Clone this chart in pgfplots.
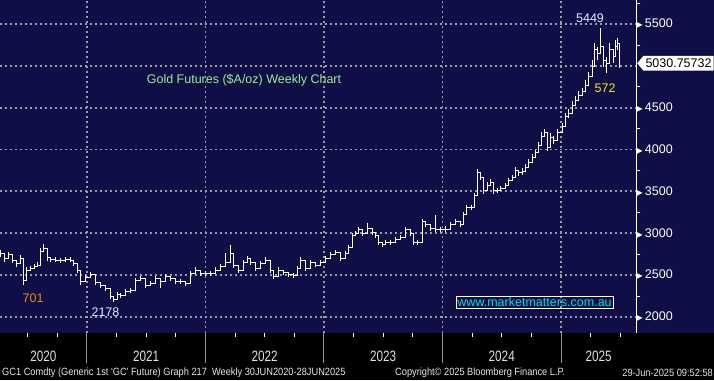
\documentclass[border=0pt]{standalone}
\usepackage{fontspec}
\setmainfont{Liberation Sans}
\newfontfamily\dejavu{DejaVu Sans}
\newfontfamily\condyear[FakeStretch=0.78]{Liberation Sans}
\newfontfamily\condfoot[FakeStretch=0.88]{Liberation Sans}
\usepackage{pgfplots}
\pgfplotsset{compat=1.18}
\usepackage{pgfplotstable}
\usetikzlibrary{shapes.symbols}
\definecolor{navybg}{RGB}{16,14,70}
\definecolor{gridc}{RGB}{155,155,168}
\definecolor{sepc}{RGB}{150,150,150}
\definecolor{yearc}{RGB}{225,225,235}
\definecolor{footc}{RGB}{230,230,230}
\definecolor{hic}{RGB}{225,235,255}
\definecolor{yel}{RGB}{240,230,30}
\definecolor{ora}{RGB}{230,140,20}
\definecolor{grn}{RGB}{150,240,150}
\definecolor{cyn}{RGB}{0,225,230}
\pgfplotsset{/pgf/number format/.cd, 1000 sep={}, assume math mode=true}
\newcommand{\tri}{{\dejavu\fontsize{8}{8}\selectfont ▶}\,}

\pgfplotstableread{
x c hp lm
2020.266 2760 40 40
2020.300 2700 40 40
2020.334 2740 40 40
2020.367 2680 40 40
2020.401 2640 40 40
2020.435 2700 40 40
2020.460 2440 40 60
2020.485 2560 40 40
2020.519 2580 30 30
2020.553 2600 30 30
2020.578 2620 30 30
2020.604 2780 40 40
2020.629 2820 50 40
2020.663 2710 40 40
2020.688 2690 30 30
2020.730 2680 30 30
2020.772 2670 30 30
2020.815 2690 30 30
2020.857 2680 30 30
2020.882 2640 30 30
2020.916 2560 30 30
2020.941 2420 40 40
2020.983 2475 30 30
2021.026 2510 30 30
2021.068 2410 30 30
2021.110 2380 30 30
2021.152 2340 30 30
2021.194 2240 30 30
2021.220 2210 30 32
2021.253 2270 30 30
2021.279 2260 30 30
2021.321 2300 30 30
2021.363 2320 30 30
2021.405 2440 30 30
2021.448 2460 30 30
2021.490 2380 30 30
2021.532 2400 30 30
2021.574 2460 30 30
2021.616 2420 30 80
2021.658 2480 30 30
2021.701 2460 30 30
2021.743 2420 30 30
2021.785 2420 30 30
2021.827 2400 30 30
2021.869 2520 30 30
2021.912 2560 30 30
2021.954 2520 30 30
2021.996 2520 30 30
2022.038 2520 30 30
2022.080 2560 30 30
2022.123 2600 30 30
2022.165 2650 110 30
2022.207 2760 100 40
2022.232 2620 40 40
2022.275 2560 30 30
2022.317 2650 30 30
2022.350 2700 30 30
2022.376 2650 30 30
2022.418 2580 30 30
2022.460 2640 30 30
2022.502 2680 30 30
2022.545 2560 30 30
2022.570 2480 30 30
2022.612 2560 30 30
2022.654 2530 30 30
2022.696 2510 30 30
2022.739 2500 30 30
2022.772 2580 30 30
2022.798 2680 30 30
2022.840 2580 30 30
2022.882 2650 30 30
2022.924 2620 30 30
2022.967 2650 30 30
2023.009 2700 30 30
2023.051 2740 30 30
2023.093 2770 30 30
2023.135 2700 30 30
2023.178 2760 30 30
2023.203 2830 30 30
2023.237 2970 30 30
2023.262 3000 30 30
2023.287 3040 30 30
2023.321 3000 30 30
2023.363 3060 60 30
2023.405 3010 30 30
2023.431 2970 30 30
2023.456 2890 30 30
2023.490 2860 30 30
2023.515 2890 30 30
2023.557 2890 30 30
2023.599 2930 30 30
2023.642 2950 30 30
2023.684 3040 30 30
2023.726 3000 30 30
2023.751 2890 30 30
2023.785 2890 30 30
2023.827 3140 30 30
2023.853 3100 30 30
2023.895 3060 30 30
2023.937 3040 180 30
2023.979 3040 30 30
2024.021 3050 30 30
2024.064 3100 30 30
2024.106 3140 30 30
2024.148 3100 30 30
2024.173 3220 30 30
2024.199 3310 30 30
2024.241 3310 30 30
2024.266 3450 30 30
2024.291 3730 40 40
2024.317 3670 40 40
2024.342 3510 40 40
2024.376 3570 40 40
2024.401 3610 40 40
2024.426 3510 40 40
2024.460 3510 30 30
2024.486 3530 30 30
2024.528 3570 30 30
2024.553 3630 30 30
2024.587 3670 30 30
2024.612 3750 40 40
2024.637 3720 40 40
2024.671 3740 40 40
2024.697 3790 40 40
2024.722 3850 40 40
2024.756 3910 40 40
2024.781 3960 40 40
2024.806 4050 40 40
2024.832 4160 50 50
2024.857 4200 50 50
2024.882 4030 50 50
2024.908 4150 50 50
2024.933 4110 50 50
2024.967 4200 50 50
2025.009 4270 50 50
2025.034 4390 50 50
2025.059 4430 50 50
2025.093 4530 50 50
2025.118 4590 50 50
2025.144 4650 50 50
2025.178 4690 50 50
2025.203 4770 60 60
2025.228 4870 60 60
2025.262 4990 80 80
2025.279 5190 80 80
2025.304 5150 80 80
2025.329 5230 219 80
2025.355 5070 80 80
2025.380 5030 80 120
2025.405 5190 80 80
2025.439 5110 80 80
2025.456 5230 80 80
2025.473 5270 60 80
2025.490 5031 60 60
}\gold

\begin{document}
\begin{tikzpicture}
\path[use as bounding box] (0pt,-47pt) rectangle (714pt,333pt);
\fill[black] (0pt,-47pt) rectangle (714pt,0pt);
\fill[navybg] (636pt,0pt) rectangle (714pt,333pt);
\begin{axis}[
  at={(0pt,0pt)}, anchor=south west,
  scale only axis, width=636pt, height=333pt,
  xmin=2020.266, xmax=2025.633, ymin=1807, ymax=5787,
  axis background/.style={fill=navybg},
  axis line style={draw=none},
  xtick={2021,2022,2023,2024,2025}, xticklabels={},
  minor xtick={2020.5,2020.75,2021.25,2021.5,2021.75,2022.25,2022.5,2022.75,2023.25,2023.5,2023.75,2024.25,2024.5,2024.75,2025.25,2025.5},
  ytick={2000,2500,3000,3500,4000,4500,5000,5500},
  yticklabels={\tri 2000,\tri 2500,\tri 3000,\tri 3500,\tri 4000,\tri 4500,{},\tri 5500},
  minor ytick={2250,2750,3250,3750,4250,4750,5250,5750},
  xtick pos=bottom, ytick pos=right, yticklabel pos=right,
  tick align=outside,
  major tick length=0pt, minor tick length=4pt,
  minor tick style={white, line width=0.8pt},
  grid=major,
  major grid style={gridc, line width=1.8pt, dash pattern=on 1.8pt off 3.2pt},
  yticklabel style={font=\fontsize{12.5}{13}\selectfont, text=white, inner sep=0.5pt, anchor=west, xshift=0pt},
  clip=false,
]
\addplot[white, line width=0.9pt, const plot, mark=none,
  error bars/.cd, y dir=both, y explicit, error mark=none,
  error bar style={white, line width=0.9pt}]
  table[x=x, y=c, y error plus=hp, y error minus=lm] {\gold};

\draw[white, line width=1pt] (rel axis cs:1,0) -- (rel axis cs:1,1);
\foreach \yr in {2021,2022,2023,2024,2025} {
  \edef\tmp{\noexpand\draw[sepc, line width=1pt] (axis cs:\yr,1807) -- ++(0pt,-30pt);}\tmp
}
\node[font=\condyear\fontsize{15}{15}\selectfont, text=yearc, yshift=-23pt] at (axis cs:2020.633,1807) {2020};
\node[font=\condyear\fontsize{15}{15}\selectfont, text=yearc, yshift=-23pt] at (axis cs:2021.5,1807) {2021};
\node[font=\condyear\fontsize{15}{15}\selectfont, text=yearc, yshift=-23pt] at (axis cs:2022.5,1807) {2022};
\node[font=\condyear\fontsize{15}{15}\selectfont, text=yearc, yshift=-23pt] at (axis cs:2023.5,1807) {2023};
\node[font=\condyear\fontsize{15}{15}\selectfont, text=yearc, yshift=-23pt] at (axis cs:2024.5,1807) {2024};
\node[font=\condyear\fontsize{15}{15}\selectfont, text=yearc, yshift=-23pt] at (axis cs:2025.317,1807) {2025};

\node[font=\fontsize{12.5}{13}\selectfont, text=hic] at (axis cs:2025.245,5572) {5449};
\node[font=\fontsize{12.5}{13}\selectfont, text=yel] at (axis cs:2025.372,4735) {572};
\node[font=\fontsize{12.5}{13}\selectfont, text=ora] at (axis cs:2020.545,2226) {701};
\node[font=\fontsize{12.5}{13}\selectfont, text=hic] at (axis cs:2021.156,2058) {2178};
\node[font=\fontsize{12.5}{13}\selectfont, text=grn] at (axis cs:2022.325,4831) {Gold Futures (\$A/oz) Weekly Chart};
\node[font=\fontsize{12.5}{13}\selectfont, text=cyn, draw=white, line width=0.8pt, inner sep=1.5pt] at (axis cs:2024.777,2172) {www.marketmatters.com.au};

\node[signal, signal to=west, signal pointer angle=100, fill=white, text=black,
  inner xsep=2pt, inner ysep=3pt, anchor=west, xshift=1pt,
  font=\fontsize{12.5}{13}\selectfont] at (axis cs:2025.633,5030.76) {5030.75732};
\end{axis}
\node[font=\condfoot\fontsize{10.5}{11}\selectfont, text=footc, anchor=west, inner sep=0pt] at (2pt,-40pt) {GC1 Comdty (Generic 1st 'GC' Future) Graph 217\ \ Weekly 30JUN2020-28JUN2025};
\node[font=\condfoot\fontsize{10.5}{11}\selectfont, text=footc, anchor=west, inner sep=0pt] at (395pt,-40pt) {Copyright© 2025 Bloomberg Finance L.P.};
\node[font=\condfoot\fontsize{10.5}{11}\selectfont, text=footc, anchor=east, inner sep=0pt] at (713pt,-40pt) {29-Jun-2025 09:52:58};
\end{tikzpicture}
\end{document}
